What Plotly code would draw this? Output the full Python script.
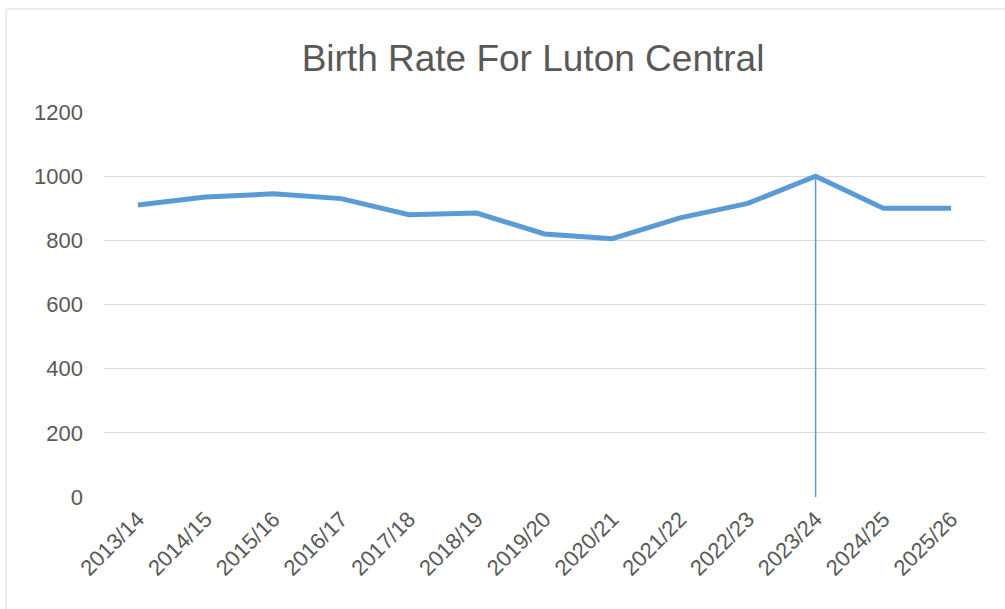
import plotly.graph_objects as go

categories = ["2013/14", "2014/15", "2015/16", "2016/17", "2017/18", "2018/19", "2019/20",
              "2020/21", "2021/22", "2022/23", "2023/24", "2024/25", "2025/26"]
births = [910, 935, 945, 930, 880, 885, 820, 805, 870, 915, 1000, 900, 900]
marker_category = "2023/24"
marker_value = births[categories.index(marker_category)]

y_ticks = [0, 200, 400, 600, 800, 1000, 1200]

BLUE = "#5b9bd5"
TEXT = "#595959"
FONT = "Liberation Sans"

fig = go.Figure()
fig.add_trace(go.Scatter(
    x=[marker_category, marker_category], y=[0, marker_value],
    mode="lines", line=dict(color=BLUE, width=1.5), hoverinfo="skip", showlegend=False,
))
fig.add_trace(go.Scatter(
    x=categories, y=births, mode="lines",
    line=dict(color=BLUE, width=5, shape="linear"),
    showlegend=False,
))

W, H = 1005, 609
ml, mr, mt, mb = 104, 20, 112, 112
pw, ph = W - ml - mr, H - mt - mb

def px2paper_x(px):
    return (px - ml) / pw

def px2paper_y(py):
    return (H - mb - py) / ph

fig.add_shape(type="rect", xref="paper", yref="paper",
              x0=px2paper_x(6), x1=px2paper_x(1200), y0=px2paper_y(900), y1=px2paper_y(9),
              line=dict(color="#d9d9d9", width=1), fillcolor="rgba(0,0,0,0)", layer="below")

fig.update_layout(
    width=W, height=H,
    margin=dict(l=ml, r=mr, t=mt, b=mb),
    paper_bgcolor="white", plot_bgcolor="white",
    title=dict(text="Birth Rate For Luton Central", x=533 / W, xanchor="center",
               y=1 - 58 / H, yanchor="middle", yref="container",
               font=dict(family=FONT, size=37, color=TEXT)),
    xaxis=dict(type="category", categoryorder="array", categoryarray=categories,
               range=[-0.5, len(categories) - 0.5], showgrid=False, zeroline=False,
               showline=False, ticks="", tickangle=-45, ticklabelstandoff=4,
               tickfont=dict(family=FONT, size=22, color=TEXT)),
    yaxis=dict(range=[0, 1200], tickvals=y_ticks, showgrid=True, gridcolor="#d9d9d9",
               gridwidth=1, zeroline=False, showline=False, ticks="", ticklabelstandoff=20,
               tickfont=dict(family=FONT, size=22, color=TEXT)),
)

fig.write_html("out.html", config={"displayModeBar": False},
               post_script="document.body.style.margin='0';document.body.style.padding='0';")
